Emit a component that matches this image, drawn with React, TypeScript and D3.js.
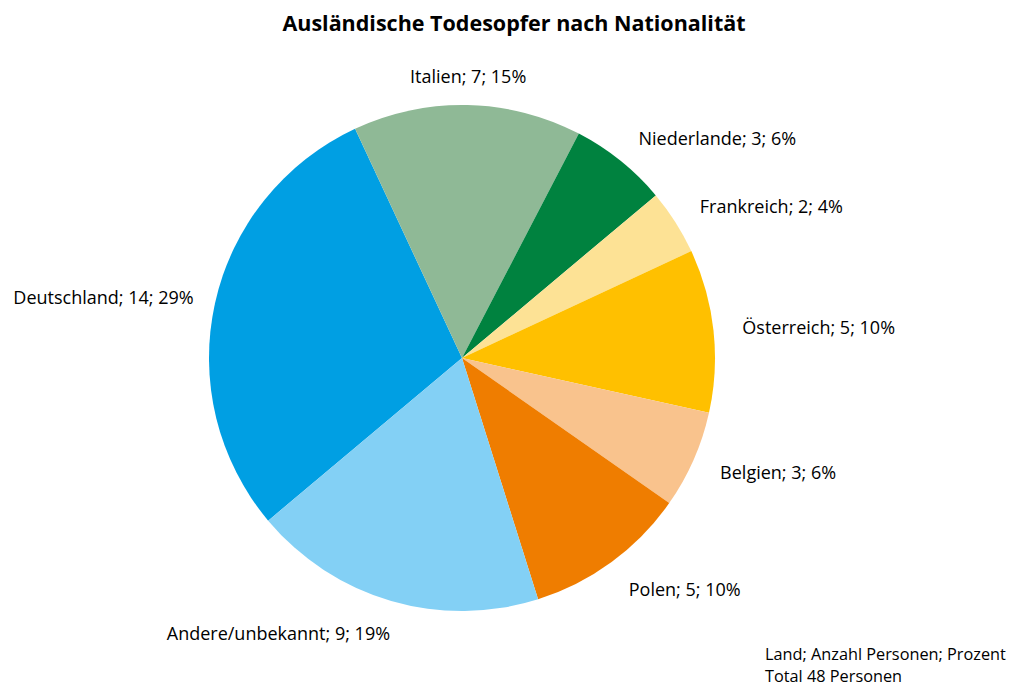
import React from "react";
import * as d3 from "d3";

const countries = ["Deutschland", "Italien", "Niederlande", "Frankreich", "Österreich", "Belgien", "Polen", "Andere/unbekannt"];
const counts = [14, 7, 3, 2, 5, 3, 5, 9];
const percents = ["29%", "15%", "6%", "4%", "10%", "6%", "10%", "19%"];
const colors = ["#009FE3", "#8FB996", "#00823F", "#FDE295", "#FFC000", "#F9C38D", "#EF7D00", "#83D0F5"];
const title = "Ausländische Todesopfer nach Nationalität";
const noteLines = ["Land; Anzahl Personen; Prozent", "Total 48 Personen"];

const W = 1011;
const H = 687;
const cx = 462;
const cy = 358;
const R = 253;
const labelR = 282;
const startDeg = 230;

export default function App() {
  const data = countries.map((c, i) => ({ name: c, value: counts[i], pct: percents[i], color: colors[i] }));
  const start = (startDeg * Math.PI) / 180;
  const pie = d3.pie<any>().value((d) => d.value).sort(null).startAngle(start).endAngle(start + 2 * Math.PI);
  const arcs = pie(data);
  const arc = d3.arc<any>().innerRadius(0).outerRadius(R);
  const font = "'Open Sans', sans-serif";
  return (
    <svg width={W} height={H} style={{ position: "absolute", left: 0, top: 0, background: "#fff" }}>
      <rect width={W} height={H} fill="#fff" />
      <text x={514} y={22} textAnchor="middle" dominantBaseline="central" fontFamily={font} fontWeight="bold" fontSize={21.5} fill="#000">
        {title}
      </text>
      <g transform={`translate(${cx},${cy})`}>
        {arcs.map((a, i) => (
          <path key={i} d={arc(a) as string} fill={a.data.color} />
        ))}
        {arcs.map((a, i) => {
          const mid = (a.startAngle + a.endAngle) / 2;
          const s = Math.sin(mid);
          const c = Math.cos(mid);
          const anchor = s > 0.15 ? "start" : s < -0.15 ? "end" : "middle";
          const x = labelR * s + (anchor === "end" ? 7 : 0);
          const y = -labelR * c + (c < -0.5 ? 4 : 0);
          return (
            <text key={"l" + i} x={x} y={y} textAnchor={anchor} dominantBaseline="central" fontFamily={font} fontSize={18} fill="#000">
              {`${a.data.name}; ${a.data.value}; ${a.data.pct}`}
            </text>
          );
        })}
      </g>
      {noteLines.map((t, i) => (
        <text key={t} x={765} y={654 + i * 22} dominantBaseline="central" fontFamily={font} fontSize={16.3} fill="#000">
          {t}
        </text>
      ))}
    </svg>
  );
}
